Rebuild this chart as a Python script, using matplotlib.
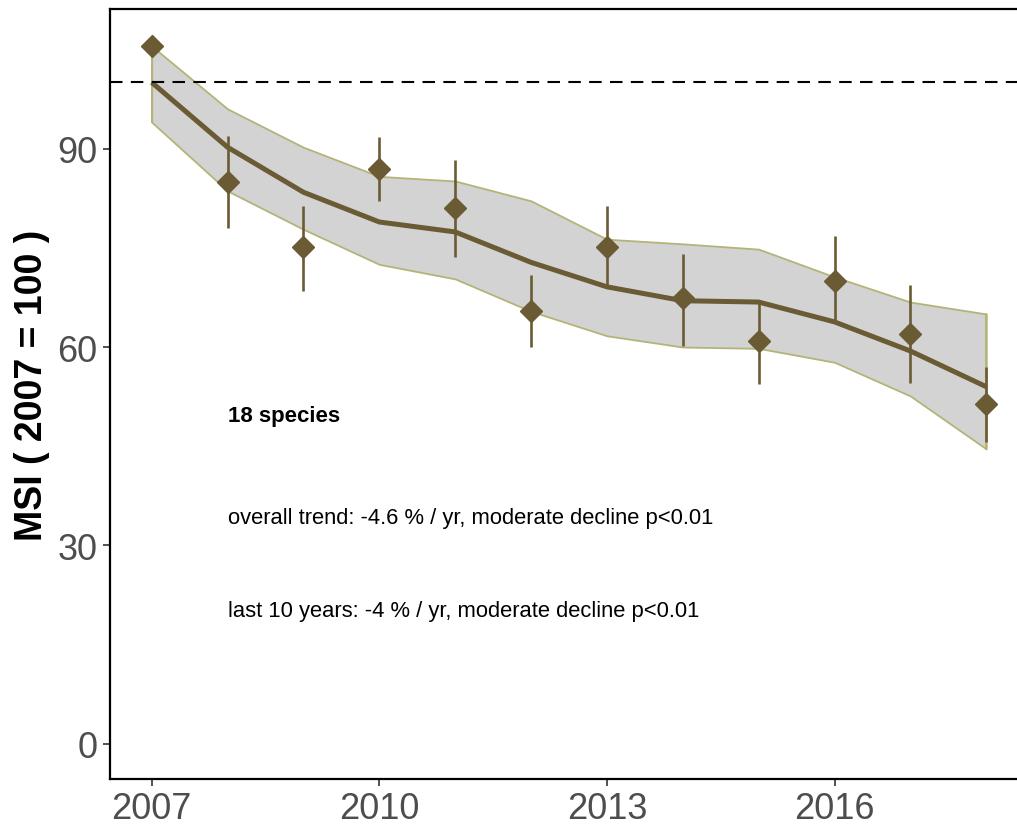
import matplotlib
matplotlib.use('Agg')
import matplotlib.pyplot as plt
import numpy as np

# values
years = [2007, 2008, 2009, 2010, 2011, 2012, 2013, 2014, 2015, 2016, 2017, 2018]
msi = [105.5, 84.9, 75.1, 86.9, 81.0, 65.4, 75.1, 67.4, 60.9, 70.0, 62.0, 51.4]
msi_hi = [None, 91.9, 81.3, 91.7, 88.3, 70.9, 81.3, 74.1, 67.0, 76.8, 69.4, 57.0]
msi_lo = [None, 78.0, 68.5, 82.1, 73.6, 60.0, 69.1, 60.2, 54.4, 63.8, 54.6, 45.6]
trend = [100.0, 90.2, 83.4, 78.9, 77.4, 72.8, 69.1, 67.0, 66.8, 63.8, 59.4, 54.0]
trend_hi = [105.5, 96.0, 90.2, 85.8, 85.1, 82.1, 76.3, 75.6, 74.8, 70.6, 66.8, 65.0]
trend_lo = [94.0, 83.6, 77.8, 72.5, 70.3, 65.4, 61.7, 60.0, 59.8, 57.7, 52.6, 44.6]
xticks = [2007, 2010, 2013, 2016]
yticks = [0, 30, 60, 90]

notes = ['18 species',
         'overall trend: -4.6 % / yr, moderate decline p<0.01',
         'last 10 years: -4 % / yr, moderate decline p<0.01']
note_y = [49.6, 34.2, 20.1]

brown = '#6B5B35'
edge = '#B4B478'

plt.rcParams['font.family'] = ['Liberation Sans', 'DejaVu Sans']

fig = plt.figure(figsize=(10.17, 8.28), dpi=100)
ax = fig.add_axes([110/1017, 48/828, 918/1017, 770/828])

ax.fill_between(years, trend_lo, trend_hi, facecolor='#D3D3D3', edgecolor=edge, linewidth=1.3, zorder=1)
# ribbon outline closing ends
ax.plot([years[0], years[0]], [trend_lo[0], trend_hi[0]], color=edge, lw=1.3, zorder=1)
ax.plot([years[-1], years[-1]], [trend_lo[-1], trend_hi[-1]], color=edge, lw=1.3, zorder=1)
ax.plot(years, trend, color=brown, lw=3.6, zorder=2, solid_capstyle='butt')

ax.axhline(100, color='black', lw=1.5, ls=(0, (6, 4)), zorder=3)

for x, lo, hi in zip(years, msi_lo, msi_hi):
    if lo is None:
        continue
    ax.vlines(x, lo, hi, color=brown, lw=1.9, zorder=4)
ax.plot(years, msi, ls='none', marker='D', ms=11.5, color=brown, zorder=5)

for txt, y in zip(notes, note_y):
    ax.text(2008, y, txt, fontsize=16 if txt == notes[0] else 15.8,
            fontweight='bold' if txt == notes[0] else 'normal',
            ha='left', va='center', color='black')

ax.set_xlim(2006.45, 2018.55)
ax.set_ylim(-5.3, 111.1)
ax.set_xticks(xticks)
ax.set_yticks(yticks)
ax.tick_params(axis='both', labelsize=26, labelcolor='#4D4D4D', color='#333333',
               length=5, width=1.2, pad=4)
ax.set_ylabel('MSI ( 2007 = 100 )', fontsize=27, fontweight='bold')
ax.yaxis.set_label_coords(-0.065, 0.512)

for s in ax.spines.values():
    s.set_linewidth(1.6)
    s.set_color('black')

fig.savefig('out.png', dpi=100)
